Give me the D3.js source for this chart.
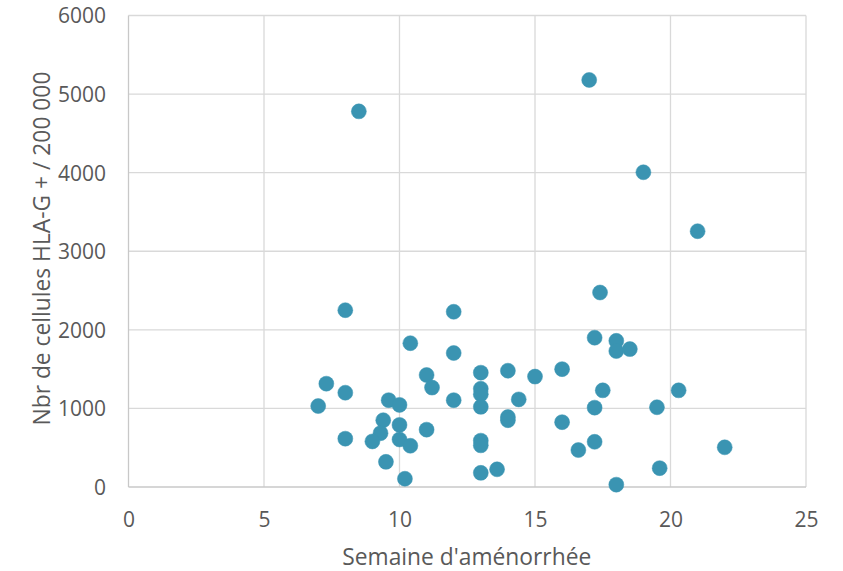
<!DOCTYPE html>
<html>
<head>
<meta charset="utf-8">
<script src="https://cdn.jsdelivr.net/npm/d3@7"></script>
<style>
  html, body { margin: 0; padding: 0; background: #fff; }
  svg { display: block; font-family: "Open Sans", "Liberation Sans", sans-serif; }
</style>
</head>
<body>
<svg id="chart" width="843" height="571"></svg>
<script>
// Data: gestational week (x) and HLA-G+ cell count per 200 000 (y)
const weeks = [
  8, 12, 10.4, 12, 7.3, 8, 7, 9.6, 10, 11, 11.2, 12, 13, 13, 13, 13, 14, 15, 16, 14.4,
  14, 14, 16, 9.4, 10, 9.3, 9, 10, 10.4, 11, 8, 13, 13, 9.5, 10.2, 13, 13.6,
  17.4, 17.2, 18, 18, 18.5, 17.5, 17.2, 19.5, 20.3, 17.2, 16.6, 19.6, 18, 22,
  8.5, 17, 19, 21
];
const cells = [
  2250, 2230, 1830, 1705, 1315, 1200, 1030, 1105, 1045, 1425, 1265, 1105, 1455, 1250, 1180, 1020, 1480, 1405, 1500, 1115,
  890, 850, 825, 850, 790, 685, 580, 605, 525, 730, 615, 590, 530, 320, 105, 180, 225,
  2475, 1900, 1860, 1730, 1755, 1230, 1010, 1015, 1230, 575, 470, 240, 30, 505,
  4780, 5180, 4005, 3255
];
const xTicks = [0, 5, 10, 15, 20, 25];
const yTicks = [0, 1000, 2000, 3000, 4000, 5000, 6000];
const xTitle = "Semaine d'aménorrhée";
const yTitle = "Nbr de cellules HLA-G + / 200 000";

const points = weeks.map((w, i) => ({ x: w, y: cells[i] }));

const svg = d3.select("#chart");
const pLeft = 128.5, pRight = 806, pTop = 15.5, pBottom = 487;

const x = d3.scaleLinear().domain([0, 25]).range([pLeft, pRight]);
const y = d3.scaleLinear().domain([0, 6000]).range([pBottom, pTop]);

const grid = "#d9d9d9";
const textColor = "#595959";

// vertical gridlines
svg.append("g").selectAll("line").data(xTicks.filter(t => t > 0)).join("line")
  .attr("x1", d => x(d)).attr("x2", d => x(d))
  .attr("y1", pTop).attr("y2", pBottom)
  .attr("stroke", grid).attr("stroke-width", 1.3);

// horizontal gridlines
svg.append("g").selectAll("line").data(yTicks.filter(t => t > 0)).join("line")
  .attr("x1", pLeft).attr("x2", pRight)
  .attr("y1", d => y(d)).attr("y2", d => y(d))
  .attr("stroke", grid).attr("stroke-width", 1.3);

// axes lines
svg.append("line").attr("x1", pLeft).attr("x2", pLeft).attr("y1", pTop).attr("y2", pBottom)
  .attr("stroke", "#c8c8c8").attr("stroke-width", 1.3);
svg.append("line").attr("x1", pLeft).attr("x2", pRight).attr("y1", pBottom).attr("y2", pBottom)
  .attr("stroke", "#c8c8c8").attr("stroke-width", 1.3);

// x axis tick labels
const xAxis = d3.axisBottom(x).tickValues(xTicks).tickSize(0).tickPadding(0).tickFormat(d3.format("d"));
const gx = svg.append("g").attr("transform", `translate(0,${pBottom})`).call(xAxis);
gx.select(".domain").remove();
gx.selectAll("text").attr("fill", textColor).attr("font-size", 21)
  .attr("font-family", "Open Sans, sans-serif").attr("dy", null).attr("y", 40);

// y axis tick labels
const yAxis = d3.axisLeft(y).tickValues(yTicks).tickSize(0).tickPadding(0).tickFormat(d3.format("d"));
const gy = svg.append("g").attr("transform", `translate(106,0)`).call(yAxis);
gy.select(".domain").remove();
gy.selectAll("text").attr("fill", textColor).attr("font-size", 21)
  .attr("font-family", "Open Sans, sans-serif").attr("dy", "0.35em").attr("x", 0);

// axis titles
svg.append("text").attr("x", (pLeft + pRight) / 2 - 0.5).attr("y", 565)
  .attr("text-anchor", "middle").attr("fill", textColor).attr("font-size", 22.8)
  .text(xTitle);
svg.append("text").attr("transform", `translate(50,248.5) rotate(-90)`)
  .attr("text-anchor", "middle").attr("fill", textColor).attr("font-size", 22.8)
  .text(yTitle);

// points
svg.append("g").selectAll("circle").data(points).join("circle")
  .attr("cx", d => x(d.x)).attr("cy", d => y(d.y)).attr("r", 7.5)
  .attr("fill", "#3a94b2").attr("stroke", "#3a94b2").attr("stroke-width", 0.5);
</script>
</body>
</html>
